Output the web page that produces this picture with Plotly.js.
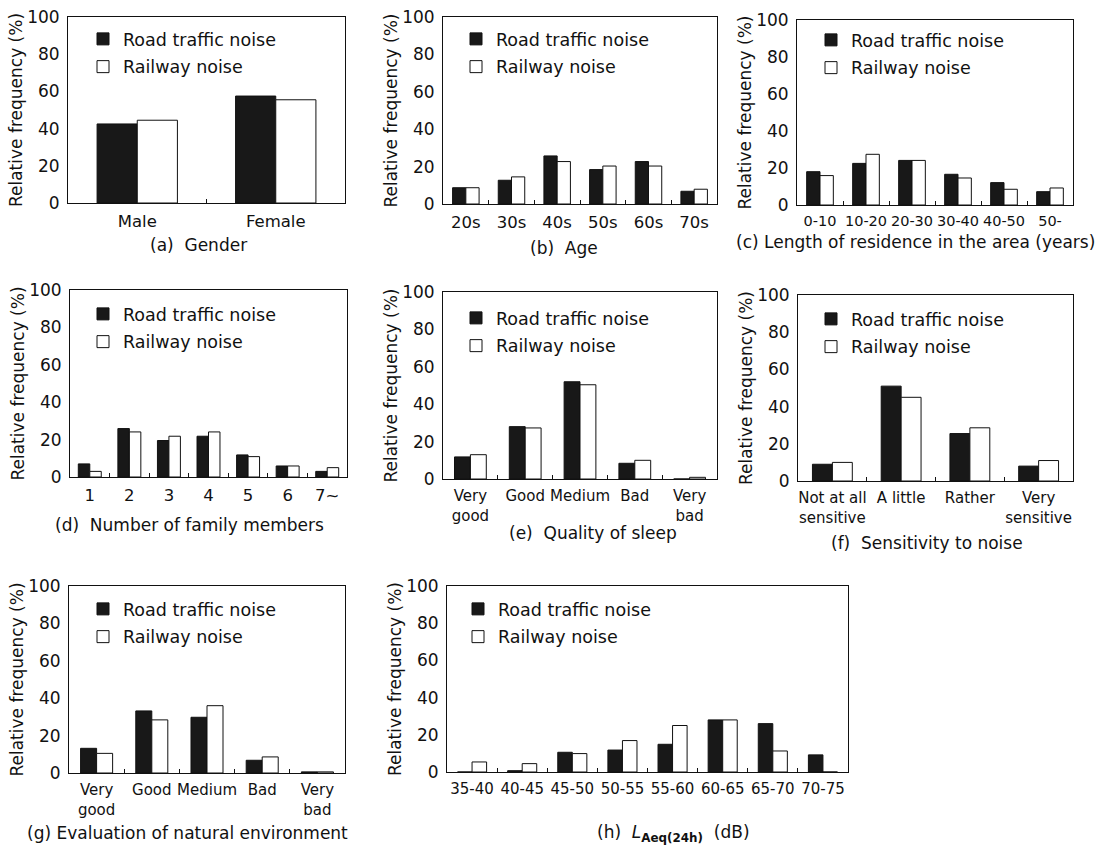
<!DOCTYPE html>
<html><head><meta charset="utf-8">
<script src="https://cdn.plot.ly/plotly-3.0.1.min.js"></script>
<style>html,body{margin:0;padding:0;background:#fff}#chart{width:1111px;height:850px}</style>
</head><body><div id="chart"></div>
<script>
const W = 1111, H = 850;

// (a) Gender
const genderCats = ['Male', 'Female'];
const genderLabels = ['Male', 'Female'];
const genderRoad = [42.5, 57.5];
const genderRail = [44.5, 55.5];

// (b) Age
const ageCats = ['20s', '30s', '40s', '50s', '60s', '70s'];
const ageLabels = ['20s', '30s', '40s', '50s', '60s', '70s'];
const ageRoad = [8.7, 12.7, 25.7, 18.4, 22.7, 6.8];
const ageRail = [8.7, 14.5, 22.7, 20.3, 20.3, 7.9];

// (c) Length of residence in the area (years)
const resCats = ['0-10', '10-20', '20-30', '30-40', '40-50', '50-'];
const resLabels = ['0-10', '10-20', '20-30', '30-40', '40-50', '50-'];
const resRoad = [18.0, 22.5, 24.1, 16.6, 12.1, 7.2];
const resRail = [15.9, 27.4, 24.1, 14.6, 8.5, 9.2];

// (d) Number of family members
const famCats = ['1', '2', '3', '4', '5', '6', '7~'];
const famLabels = ['1', '2', '3', '4', '5', '6', '7~'];
const famRoad = [7.0, 25.9, 19.5, 21.8, 11.8, 5.9, 3.0];
const famRail = [3.0, 24.1, 21.8, 24.1, 10.9, 5.9, 5.0];

// (e) Quality of sleep
const sleepCats = ['Very good', 'Good', 'Medium', 'Bad', 'Very bad'];
const sleepLabels = ['Very<br>good', 'Good', 'Medium', 'Bad', 'Very<br>bad'];
const sleepRoad = [11.8, 28.0, 52.0, 8.4, 0];
const sleepRail = [13.0, 27.3, 50.4, 10.0, 0.9];

// (f) Sensitivity to noise
const sensCats = ['Not at all sensitive', 'A little', 'Rather', 'Very sensitive'];
const sensLabels = ['Not at all<br>sensitive', 'A little', 'Rather', 'Very<br>sensitive'];
const sensRoad = [9.0, 51.0, 25.5, 8.0];
const sensRail = [10.0, 45.0, 28.6, 11.0];

// (g) Evaluation of natural environment
const envCats = ['Very good', 'Good', 'Medium', 'Bad', 'Very bad'];
const envLabels = ['Very<br>good', 'Good', 'Medium', 'Bad', 'Very<br>bad'];
const envRoad = [13.2, 33.2, 29.8, 6.8, 0.6];
const envRail = [10.5, 28.4, 36.0, 8.6, 0.6];

// (h) LAeq(24h) (dB)
const laeqCats = ['35-40', '40-45', '45-50', '50-55', '55-60', '60-65', '65-70', '70-75'];
const laeqLabels = ['35-40', '40-45', '45-50', '50-55', '55-60', '60-65', '65-70', '70-75'];
const laeqRoad = [0, 0.7, 10.6, 11.8, 14.9, 28.0, 26.0, 9.2];
const laeqRail = [5.4, 4.5, 9.9, 16.9, 25.0, 28.0, 11.3, 0];

const seriesNames = ['Road traffic noise', 'Railway noise'];
const yTitle = 'Relative frequency (%)';

const panels = [
  {cats: genderCats, labels: genderLabels, road: genderRoad, rail: genderRail, box: [68, 345, 17, 203], leg: [83, 21], cap: [198, 245], tf: 16.5, caption: '(a)\u00a0 Gender'},
  {cats: ageCats, labels: ageLabels, road: ageRoad, rail: ageRail, box: [443, 717, 17, 204], leg: [456, 21], cap: [564, 248], tf: 16.5, caption: '(b)\u00a0 Age'},
  {cats: resCats, labels: resLabels, road: resRoad, rail: resRail, box: [797, 1073, 20, 205], leg: [811, 22], cap: [915, 242], tf: 14.5, caption: '(c) Length of residence in the area (years)'},
  {cats: famCats, labels: famLabels, road: famRoad, rail: famRail, box: [70, 347, 290, 477], leg: [83, 296], cap: [189, 525], tf: 16.5, caption: '(d)\u00a0 Number of family members'},
  {cats: sleepCats, labels: sleepLabels, road: sleepRoad, rail: sleepRail, box: [443, 717, 292, 479], leg: [456, 300], cap: [593, 533], tf: 15, caption: '(e)\u00a0 Quality of sleep'},
  {cats: sensCats, labels: sensLabels, road: sensRoad, rail: sensRail, box: [798, 1073, 295, 481], leg: [811, 301], cap: [927, 543], tf: 15, caption: '(f)\u00a0 Sensitivity to noise'},
  {cats: envCats, labels: envLabels, road: envRoad, rail: envRail, box: [69, 345, 586, 773], leg: [83, 591], cap: [187, 833], tf: 15, caption: '(g) Evaluation of natural environment'},
  {cats: laeqCats, labels: laeqLabels, road: laeqRoad, rail: laeqRail, box: [447, 848, 586, 772], leg: [458, 591], cap: [673, 833], tf: 15, caption: '(h)\u00a0 <i>L</i><sub><b>Aeq(24h)</b></sub>\u00a0 (dB)'}
];

const ink = '#111111';
const data = [];
const layout = {
  width: W, height: H,
  margin: {l: 0, r: 0, t: 0, b: 0},
  paper_bgcolor: '#ffffff', plot_bgcolor: '#ffffff',
  barmode: 'group', bargap: 0.42, bargroupgap: 0,
  showlegend: true,
  font: {family: 'DejaVu Sans, sans-serif', color: ink},
  annotations: []
};

panels.forEach((p, i) => {
  const n = i + 1;
  const sfx = n === 1 ? '' : String(n);
  const xa = 'x' + sfx, ya = 'y' + sfx, lg = 'legend' + sfx;
  data.push({type: 'bar', name: seriesNames[0], x: p.cats, y: p.road, xaxis: xa, yaxis: ya, legend: lg, legendgroup: 'road' + n,
    marker: {color: '#181818', line: {color: ink, width: 1}}, hoverinfo: 'x+y+name'});
  data.push({type: 'bar', name: seriesNames[1], x: p.cats, y: p.rail, xaxis: xa, yaxis: ya, legend: lg, legendgroup: 'rail' + n,
    marker: {color: '#ffffff', line: {color: ink, width: 1}}, hoverinfo: 'x+y+name'});
  layout['xaxis' + sfx] = {
    domain: [p.box[0] / W, p.box[1] / W], anchor: ya, type: 'category',
    tickmode: 'array', tickvals: p.cats, ticktext: p.labels,
    tickson: 'boundaries', ticks: 'inside', ticklen: 4, tickcolor: ink,
    showline: true, mirror: true, linecolor: ink, linewidth: 1,
    showgrid: false, zeroline: false, tickangle: 0,
    tickfont: {size: p.tf}, ticklabelstandoff: 3, fixedrange: true
  };
  layout['yaxis' + sfx] = {
    domain: [1 - p.box[3] / H, 1 - p.box[2] / H], anchor: xa,
    range: [0, 100], dtick: 20, tick0: 0,
    showline: true, mirror: true, linecolor: ink, linewidth: 1,
    showgrid: false, zeroline: false, ticks: '',
    tickfont: {size: 17}, ticklabelstandoff: 4, fixedrange: true,
    title: {text: yTitle, font: {size: 17}, standoff: 0}
  };
  layout[lg] = {
    x: p.leg[0] / W, y: 1 - p.leg[1] / H, xanchor: 'left', yanchor: 'top',
    bgcolor: 'rgba(0,0,0,0)', borderwidth: 0,
    font: {size: 17.5}, tracegroupgap: 2, traceorder: 'grouped'
  };
  layout.annotations.push({
    xref: 'paper', yref: 'paper', x: p.cap[0] / W, y: 1 - p.cap[1] / H,
    xanchor: 'center', yanchor: 'middle', showarrow: false,
    text: p.caption, font: {size: 17}
  });
});

Plotly.newPlot('chart', data, layout, {displayModeBar: false});
</script>
</body></html>
